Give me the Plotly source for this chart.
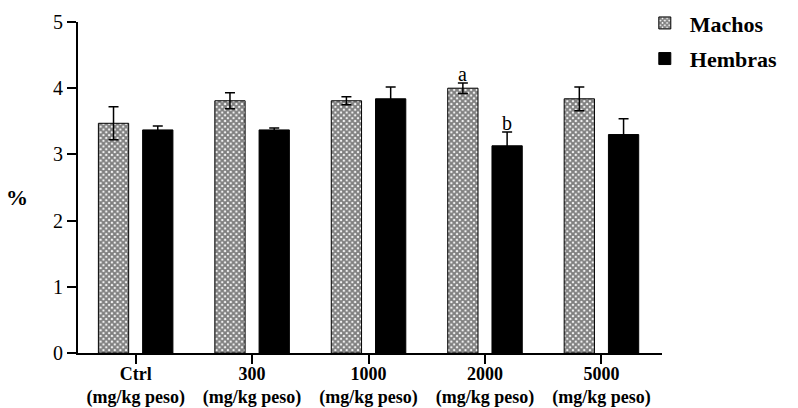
import plotly.graph_objects as go

categories = ["<b>Ctrl</b><br><b>(mg/kg peso)</b>", "<b>300</b><br><b>(mg/kg peso)</b>",
              "<b>1000</b><br><b>(mg/kg peso)</b>", "<b>2000</b><br><b>(mg/kg peso)</b>",
              "<b>5000</b><br><b>(mg/kg peso)</b>"]
machos = [3.47, 3.81, 3.81, 4.00, 3.84]
machos_err = [0.25, 0.12, 0.06, 0.08, 0.18]
hembras = [3.37, 3.37, 3.84, 3.13, 3.30]
hembras_err = [0.06, 0.03, 0.18, 0.21, 0.24]
series_names = ["Machos", "Hembras"]
sig_labels = [("a", 3, "Machos"), ("b", 3, "Hembras")]

FONT = "Liberation Serif"
idx = list(range(len(categories)))

fig = go.Figure()
fig.add_trace(go.Bar(
    x=idx, y=machos, name="<b>" + series_names[0] + "</b>", legendgroup="m",
    width=0.26, offset=-0.32,
    marker=dict(color="white", line=dict(color="black", width=1),
                pattern=dict(shape="x", fgcolor="black", bgcolor="white", size=4, solidity=0.75)),
    error_y=dict(type="data", array=machos_err, color="black", thickness=1.5, width=5, visible=True),
))
fig.add_trace(go.Bar(
    x=idx, y=hembras, name="<b>" + series_names[1] + "</b>", legendgroup="h",
    width=0.26, offset=0.06,
    marker=dict(color="black", line=dict(color="black", width=1)),
    error_y=dict(type="data", array=hembras_err, color="black", thickness=1.5, width=5, visible=True),
))

for text, ci, s in sig_labels:
    if s == "Machos":
        yv = machos[ci] + machos_err[ci]
        xv = ci - 0.19
    else:
        yv = hembras[ci] + hembras_err[ci]
        xv = ci + 0.19
    fig.add_annotation(x=xv, y=yv, text=text, showarrow=False, yanchor="bottom", yshift=-4,
                       font=dict(family=FONT, size=20, color="black"))

fig.add_annotation(xref="paper", yref="paper", x=-0.105, y=0.47, text="<b>%</b>",
                   showarrow=False, font=dict(family=FONT, size=22, color="black"),
                   xanchor="center", yanchor="middle")

fig.update_layout(
    width=798, height=408,
    margin=dict(l=78, r=136, t=22, b=55, autoexpand=False),
    paper_bgcolor="white", plot_bgcolor="white",
    barmode="overlay",
    showlegend=True,
    legend=dict(x=0.962, y=1.06, xanchor="left", yanchor="top",
                font=dict(family=FONT, size=22, color="black"),
                bgcolor="rgba(0,0,0,0)", itemwidth=40, tracegroupgap=4),
    font=dict(family=FONT, color="black"),
)
fig.update_xaxes(
    range=[-0.495, 4.52], tickmode="array", tickvals=idx, ticktext=categories,
    showline=True, linecolor="black", linewidth=2,
    ticks="outside", ticklen=9, tickwidth=1.5, tickcolor="black",
    tickfont=dict(family=FONT, size=18, color="black"),
    ticklabelstandoff=-6, automargin=False,
    showgrid=False, zeroline=False,
)
fig.update_yaxes(
    range=[0, 5], tickvals=[0, 1, 2, 3, 4, 5],
    showline=True, linecolor="black", linewidth=2,
    ticks="outside", ticklen=9, tickwidth=1.5, tickcolor="black",
    tickfont=dict(family=FONT, size=20, color="black"),
    automargin=False,
    showgrid=False, zeroline=False,
)

fig.write_html("out.html")
